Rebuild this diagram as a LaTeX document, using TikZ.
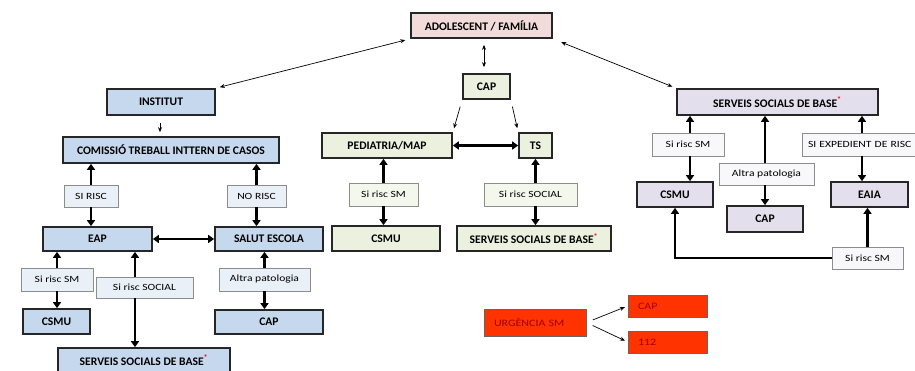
\documentclass[tikz,border=0pt]{standalone}
\usepackage{fontspec}
\setmainfont{Carlito}
\newfontfamily\lblfont{Carlito}[FakeStretch=1.22]
\usepackage{xcolor}
\usetikzlibrary{arrows.meta}
\definecolor{boxblue}{HTML}{C6D8EE}
\definecolor{lblblue}{HTML}{EAF0F8}
\definecolor{boxgreen}{HTML}{EBF1DE}
\definecolor{lblgreen}{HTML}{F3F7EC}
\definecolor{boxlila}{HTML}{E4DFEC}
\definecolor{lbllila}{HTML}{F8F7FA}
\definecolor{boxpink}{HTML}{F2DCDB}
\definecolor{boxred}{HTML}{FF3300}
\definecolor{txtred}{HTML}{A00000}
\tikzset{
  mainbox/.style={draw=black!85, line width=1.7pt, inner sep=0pt, font=\fontsize{11.6}{13}\selectfont\bfseries},
  lblbox/.style={draw=black!45, line width=0.7pt, inner sep=0pt, font=\lblfont\fontsize{9.5}{11}\selectfont},
  redbox/.style={draw=black!60, line width=0.6pt, fill=boxred, text=txtred, inner sep=0pt, font=\lblfont\fontsize{9.8}{11}\selectfont, align=left},
  bigarr/.style={line width=2.6pt, -{Triangle[length=6pt,width=8pt]}},
  bigarrs/.style={line width=2.6pt, {Triangle[length=6pt,width=8pt]}-{Triangle[length=6pt,width=8pt]}},
  thinarr/.style={line width=0.7pt, -{Stealth[length=5pt,width=4pt]}},
  thinarrs/.style={line width=0.7pt, {Stealth[length=5pt,width=4pt]}-{Stealth[length=5pt,width=4pt]}}
}
\newcommand{\ssb}{SERVEIS SOCIALS DE BASE\textsuperscript{\textcolor{red}{*}}}
\begin{document}
\begin{tikzpicture}[x=1pt,y=-1pt]
\useasboundingbox[fill=white] (0,0) rectangle (915,371);
% centre
\node[mainbox,fill=boxpink,minimum width=141,minimum height=25] (fam) at (481.5,25.5) {ADOLESCENT / FAMÍLIA};
\node[mainbox,fill=boxgreen,minimum width=47,minimum height=25] (cap) at (486.5,86.5) {CAP};
\node[mainbox,fill=boxgreen,minimum width=130,minimum height=25] (ped) at (387,145.5) {PEDIATRIA/MAP};
\node[mainbox,fill=boxgreen,minimum width=33,minimum height=25] (ts) at (535.5,145.5) {TS};
\node[lblbox,fill=lblgreen,minimum width=69,minimum height=23] (smM) at (383.5,194.5) {Si risc SM};
\node[lblbox,fill=lblgreen,minimum width=93,minimum height=23] (socM) at (530.5,194.5) {Si risc SOCIAL};
\node[mainbox,fill=boxgreen,minimum width=108,minimum height=25] (csmuM) at (386,238.5) {CSMU};
\node[mainbox,fill=boxgreen,minimum width=154,minimum height=25] (ssbM) at (534,238.5) {\ssb};
% esquerra
\node[mainbox,fill=boxblue,minimum width=108,minimum height=26] (inst) at (161,102) {INSTITUT};
\node[mainbox,fill=boxblue,minimum width=216,minimum height=26] (com) at (171,150) {COMISSIÓ TREBALL INTTERN DE CASOS};
\node[lblbox,fill=lblblue,minimum width=54,minimum height=22] (sirisc) at (91,196) {SI RISC};
\node[lblbox,fill=lblblue,minimum width=59,minimum height=22] (norisc) at (256.5,196) {NO RISC};
\node[mainbox,fill=boxblue,minimum width=109,minimum height=24] (eap) at (97.5,239) {EAP};
\node[mainbox,fill=boxblue,minimum width=108,minimum height=24] (salut) at (269,239) {SALUT ESCOLA};
\node[lblbox,fill=lblblue,minimum width=72,minimum height=23] (smL) at (57,279.5) {Si risc SM};
\node[lblbox,fill=lblblue,minimum width=97,minimum height=21] (socL) at (144.5,287.5) {Si risc SOCIAL};
\node[lblbox,fill=lblblue,minimum width=91,minimum height=23] (altraL) at (264.5,279.5) {Altra patologia};
\node[mainbox,fill=boxblue,minimum width=67,minimum height=25] (csmuL) at (56.5,321.5) {CSMU};
\node[mainbox,fill=boxblue,minimum width=108,minimum height=24] (capL) at (269,322) {CAP};
\node[mainbox,fill=boxblue,minimum width=172,minimum height=24] (ssbL) at (144,360) {\ssb};
% dreta
\node[mainbox,fill=boxlila,minimum width=201,minimum height=26] (ssbR) at (777.5,102) {\ssb};
\node[lblbox,fill=lbllila,minimum width=72,minimum height=23] (smR) at (688,144.5) {Si risc SM};
\node[lblbox,fill=lbllila,minimum width=130,minimum height=23,text width=118,align=left] (expR) at (867,144.5) {SI EXPEDIENT DE RISC};
\node[lblbox,fill=lbllila,minimum width=95,minimum height=22] (altraR) at (766.5,174) {Altra patologia};
\node[mainbox,fill=boxlila,minimum width=76,minimum height=25] (csmuR) at (675,194.5) {CSMU};
\node[mainbox,fill=boxlila,minimum width=77,minimum height=25] (eaia) at (869.5,194.5) {EAIA};
\node[mainbox,fill=boxlila,minimum width=76,minimum height=26] (capR) at (765,219) {CAP};
\node[lblbox,fill=lbllila,minimum width=71,minimum height=22] (smR2) at (867.5,258) {Si risc SM};
% urgencia
\node[redbox,minimum width=102,minimum height=27,text width=82] (urg) at (535,322.5) {URGÈNCIA SM};
\node[redbox,minimum width=79,minimum height=22,text width=59] (capU) at (667.5,306) {CAP};
\node[redbox,minimum width=79,minimum height=22,text width=59] (n112) at (667.5,342) {112};

\draw[thinarrs,shorten <=6pt,shorten >=6pt] ([xshift=2.5pt]fam.south) -- ([xshift=-2.5pt]cap.north);
\draw[thinarrs,shorten <=5pt,shorten >=4pt] (fam.south west) -- (inst.north east);
\draw[thinarrs,shorten <=9pt,shorten >=4pt] (fam.south east) -- (ssbR.north west);
\draw[thinarr,shorten <=7pt,shorten >=4pt] (cap.south west) -- (ped.north east);
\draw[thinarr,shorten <=7pt,shorten >=4pt] (cap.south east) -- (ts.north west);
\draw[bigarrs] (ped) -- (ts);
\draw[bigarr] (smM) -- (smM |- ped.south);
\draw[bigarr] (smM) -- (smM |- csmuM.north);
\draw[bigarr] (socM.north -| ts.south) -- (ts.south);
\draw[bigarr] (socM.south -| ts.south) -- (ts.south |- ssbM.north);

\draw[thinarr,shorten <=7pt,shorten >=4pt] ([xshift=-1pt]inst.south) -- ([xshift=-1pt]inst.south |- com.north);
\draw[bigarr] (sirisc) -- (sirisc |- com.south);
\draw[bigarr] (sirisc) -- (sirisc |- eap.north);
\draw[bigarr] (norisc) -- (norisc |- com.south);
\draw[bigarr] (norisc) -- (norisc |- salut.north);
\draw[bigarrs] (eap) -- (salut);
\draw[bigarr] (smL) -- (smL |- eap.south);
\draw[bigarr] (smL) -- (smL |- csmuL.north);
\draw[bigarr] ([xshift=-9.5pt]socL.north) -- ([xshift=-9.5pt]socL.north |- eap.south);
\draw[bigarr] ([xshift=-9.5pt]socL.south) -- ([xshift=-9.5pt]socL.south |- ssbL.north);
\draw[bigarr] (altraL) -- (altraL |- salut.south);
\draw[bigarr] (altraL) -- (altraL |- capL.north);

\draw[bigarr] ([xshift=2pt]smR.north) -- ([xshift=2pt]smR.north |- ssbR.south);
\draw[bigarr] ([xshift=2pt]smR.south) -- ([xshift=2pt]smR.south |- csmuR.north);
\draw[bigarr] (altraR.north -| capR.north) -- (capR.north |- ssbR.south);
\draw[bigarr] (altraR.south -| capR.north) -- (capR.north);
\draw[bigarr] ([xshift=-5pt]expR.north) -- ([xshift=-5pt]expR.north |- ssbR.south);
\draw[bigarr] ([xshift=-5pt]expR.south) -- ([xshift=-5pt]expR.south |- eaia.north);
\draw[bigarr] (smR2.north) -- (smR2.north |- eaia.south);
\draw[bigarr] (smR2.west) -| (csmuR.south);

\draw[thinarr,shorten <=7pt,shorten >=3pt] (urg.east) -- (capU.west);
\draw[thinarr,shorten <=7pt,shorten >=3pt] (urg.east) -- (n112.west);
\end{tikzpicture}
\end{document}
